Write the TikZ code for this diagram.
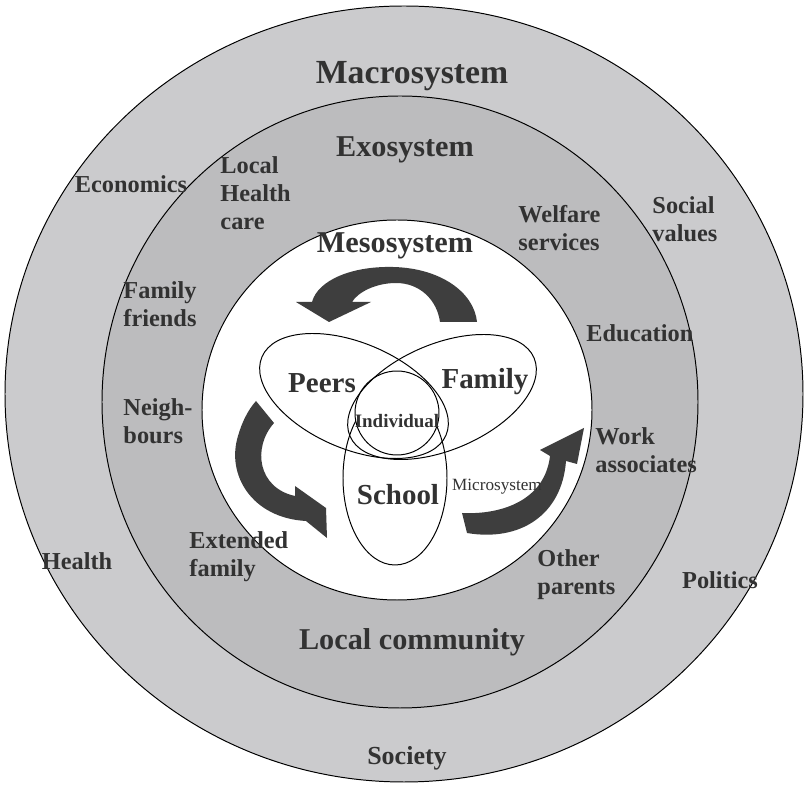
\documentclass[tikz,border=0pt]{standalone}
\usepackage{fontspec}
\setmainfont{Liberation Serif}
\usepackage{xcolor}
\definecolor{macrogray}{RGB}{203,203,205}
\definecolor{exogray}{RGB}{188,188,190}
\definecolor{arrowgray}{RGB}{62,62,62}
\definecolor{inkgray}{RGB}{50,50,50}
\tikzset{%
    layer/.style={font=\bfseries\fontsize{21.5}{24}\selectfont, text=inkgray, inner sep=0pt},
    place/.style={font=\bfseries\fontsize{17.3}{20}\selectfont, text=inkgray, align=left, inner sep=0pt},
    part/.style={font=\bfseries\fontsize{20.6}{24}\selectfont, text=inkgray, inner sep=0pt}
}

\begin{document}
\begin{tikzpicture}[x=0.025cm,y=-0.025cm,line width=0.7pt]
    \useasboundingbox (0,0) rectangle (805,786);

    % rings
    \filldraw[fill=macrogray, draw=black] (404,394) ellipse (399 and 388);
    \filldraw[fill=exogray, draw=black] (400,402) ellipse (298 and 306);
    \filldraw[fill=white, draw=black] (397,410) ellipse (195 and 190);

    % curved arrows
    \fill[arrowgray] (296,302) -- (312,302) .. controls (318,280) and (352,266) .. (393,267)
        .. controls (440,268) and (474,292) .. (477,322) -- (440,322)
        .. controls (437,300) and (420,283) .. (396,283)
        .. controls (376,283) and (358,292) .. (352,302) -- (371,302) -- (329,322) -- cycle;
    \fill[arrowgray] (256,401) -- (274,423) .. controls (252,448) and (258,488) .. (295,496)
        -- (295,486) -- (326,508) -- (327,538) -- (306,521)
        .. controls (252,518) and (226,475) .. (238,436)
        .. controls (242,422) and (248,410) .. (256,401) -- cycle;
    \fill[arrowgray] (462,513) .. controls (502,515) and (545,500) .. (550,456)
        -- (540,450) -- (584,428) -- (577,464) -- (566,461)
        .. controls (562,515) and (520,542) .. (467,533) -- cycle;

    % microsystem
    \draw (395,478) ellipse (52 and 87);
    \filldraw[fill=white, draw=black] (397,413) ellipse (42 and 42);
    \draw[rotate around={-23:(354,396)}] (354,396) ellipse (100 and 53);
    \draw[rotate around={23:(442,397)}] (442,397) ellipse (100 and 53);

    \node[layer, font=\bfseries\fontsize{24}{26}\selectfont] (macro) at (412,76) {Macrosystem};
    \node[layer] (exo) at (405,150) {Exosystem};
    \node[layer] (meso) at (395,246) {Mesosystem};
    \node[layer] (lcomm) at (412,642) {Local community};
    \node[place, font=\bfseries\fontsize{18.5}{20}\selectfont] (society) at (407,758) {Society};

    \node[place] (econ) at (131,184) {Economics};
    \node[place, anchor=west] (lhc) at (220,193) {Local\\Health\\care};
    \node[place, anchor=west] (welfare) at (518,228) {Welfare\\services};
    \node[place, anchor=west] (social) at (652,219) {Social\\values};
    \node[place, anchor=west] (ffriends) at (123,304) {Family\\friends};
    \node[place, anchor=west] (educ) at (586,333) {Education};
    \node[place, anchor=west] (neigh) at (123,421) {Neigh-\\bours};
    \node[place, anchor=west] (work) at (595,450) {Work\\associates};
    \node[place, anchor=west] (extfam) at (189,557) {Extended\\family};
    \node[place] (health) at (77,561) {Health};
    \node[place, anchor=west] (oparents) at (537,575) {Other\\parents};
    \node[place] (politics) at (720,580) {Politics};

    \node[part] (peers) at (322,383) {Peers};
    \node[part] (family) at (485,382) {Family};
    \node[part] (school) at (398,495) {School};
    \node[font=\bfseries\fontsize{13.5}{16}\selectfont, text=inkgray, inner sep=0pt] (indiv) at (397,421) {Individual};
    \node[font=\fontsize{12.2}{14}\selectfont, text=inkgray, inner sep=0pt] (micro) at (497,487) {Microsystem};
\end{tikzpicture}
\end{document}
